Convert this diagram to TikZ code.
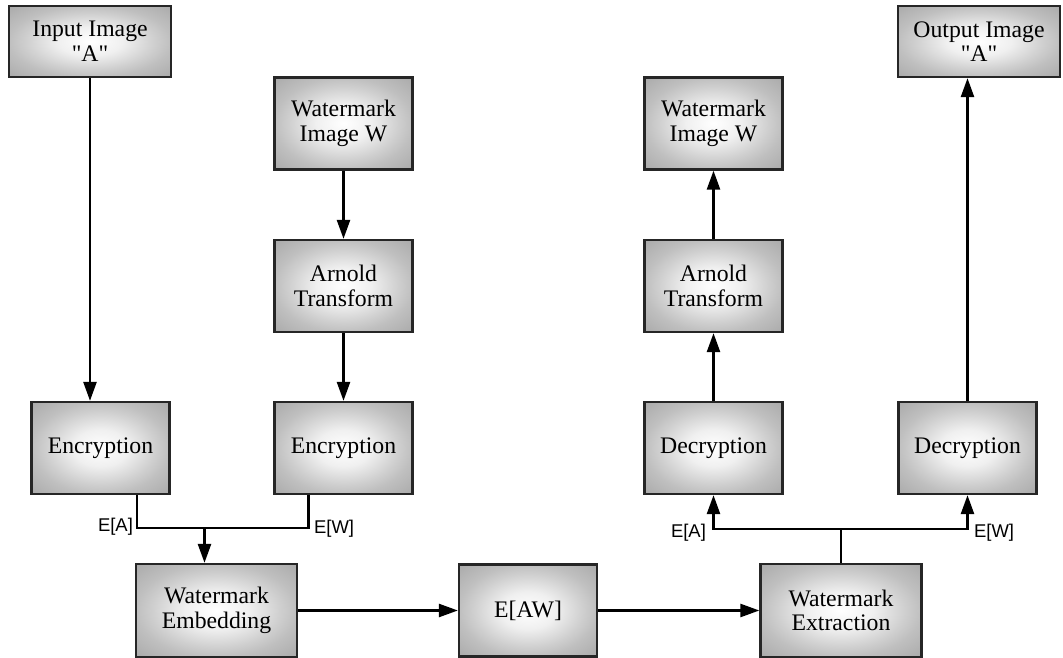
\documentclass[tikz,border=0pt]{standalone}
\usepackage{fontspec}
\setmainfont{Liberation Serif}[Ligatures=TeXOff]
\newfontfamily\labelfont{Liberation Sans}
\usetikzlibrary{arrows.meta}

\pgfdeclareradialshading{boxshade}{\pgfpoint{0bp}{0bp}}{%
  color(0bp)=(white); color(10bp)=(black!6); color(20bp)=(black!19);
  color(25bp)=(black!25); color(35bp)=(black!33); color(50bp)=(black!33)}

\tikzset{
  block/.style={draw=black!85, line width=1.3pt, shading=boxshade,
    align=center, minimum width=2.76cm, minimum height=1.84cm,
    font=\fontsize{13.5}{14}\selectfont},
  wide/.style={block, minimum width=3.22cm, minimum height=1.86cm},
  io/.style={block, minimum width=3.24cm, minimum height=1.42cm},
  flow/.style={line width=1.4pt, -{Triangle[length=0.38cm, width=0.26cm]}},
  link/.style={line width=1.4pt},
  tag/.style={font=\labelfont\fontsize{10.5}{12}\selectfont, inner sep=1pt}
}

\begin{document}
\begin{tikzpicture}[x=0.02cm, y=-0.02cm]
    \useasboundingbox (0,0) rectangle (1063,658);

    % Embedding side
    \node[io] (inA) at (90, 41.5) {Input Image\\"A"};
    \node[block] (wmL) at (343.5, 123.5) {Watermark\\Image W};
    \node[block] (arnL) at (343.5, 286) {Arnold\\Transform};
    \node[block] (encA) at (100.5, 448) {Encryption};
    \node[block] (encW) at (343.5, 448) {Encryption};
    \node[wide] (emb) at (216.5, 610.5) {Watermark\\Embedding};

    % Middle
    \node[block] (eaw) at (528, 610.5) {E[AW]};

    % Extraction side
    \node[wide] (ext) at (841, 610.5) {Watermark\\Extraction};
    \node[block] (decA) at (713.5, 448) {Decryption};
    \node[block] (decW) at (967.5, 448) {Decryption};
    \node[block] (arnR) at (713.5, 286) {Arnold\\Transform};
    \node[block] (wmR) at (713.5, 123.5) {Watermark\\Image W};
    \node[io] (outA) at (979, 41.5) {Output Image\\"A"};

    % Junction points
    \coordinate (jA) at (137, 528);
    \coordinate (jW) at (308.5, 528);
    \coordinate (jE) at (204.5, 528);
    \coordinate (jD) at (841, 529);

    % Arrows down to the embedding
    \draw[flow] (inA) -- (inA |- encA.north);
    \draw[flow] (wmL) -- (arnL);
    \draw[flow] (arnL) -- (encW);
    \draw[link] (jA |- encA.south) -- (jA) -- (jW) -- (jW |- encW.south);
    \draw[flow] (jE) -- (jE |- emb.north);
    \node[tag, anchor=east] (tagA) at (135, 527) {E[A]};
    \node[tag, anchor=west] (tagW) at (312, 529) {E[W]};

    % Along the bottom
    \draw[flow] (emb) -- (eaw);
    \draw[flow] (eaw) -- (ext);

    % Arrows up from the extraction
    \draw[link] (ext) -- (jD);
    \draw[flow] (jD) -| (decA.south);
    \draw[flow] (jD) -| (decW.south);
    \node[tag, anchor=east] (tagA2) at (708, 533) {E[A]};
    \node[tag, anchor=west] (tagW2) at (972, 533) {E[W]};
    \draw[flow] (decA) -- (arnR);
    \draw[flow] (arnR) -- (wmR);
    \draw[flow] (decW) -- (decW |- outA.south);
\end{tikzpicture}
\end{document}
